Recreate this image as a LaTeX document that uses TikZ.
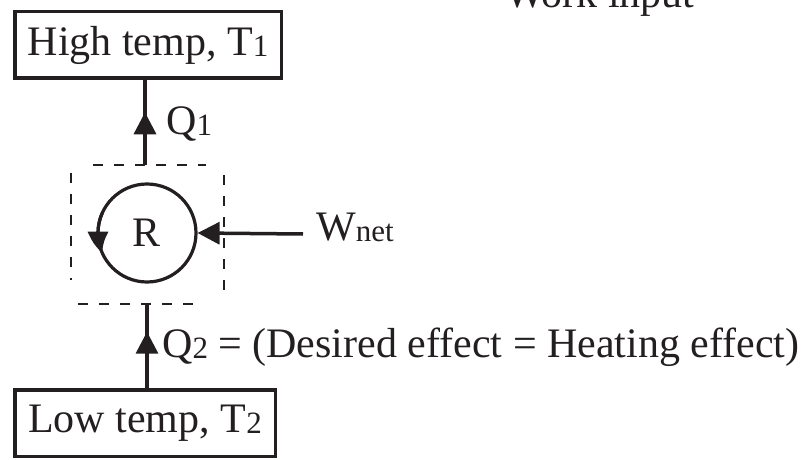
\documentclass[tikz,border=0pt]{standalone}
\usepackage{fontspec}
\setmainfont{Liberation Serif}
\usetikzlibrary{arrows.meta,bending,decorations.markings}
\definecolor{ink}{RGB}{35,31,32}
\newcommand\sbs[1]{\raisebox{-1.5pt}{\fontsize{31}{31}\selectfont #1}}
\tikzset{
  txt/.style={inner sep=0pt, font=\fontsize{42}{42}\selectfont, text=ink},
  tempbox/.style={draw=ink, line width=3.5pt, rectangle, inner sep=0pt, minimum height=66.5pt, font=\fontsize{42}{42}\selectfont, text=ink},
  conn/.style={draw=ink, line width=3.5pt},
  dashline/.style={draw=ink, line width=2.8pt, dash pattern=on 10pt off 11pt},
  bigtip/.style={-{Triangle[length=22pt,width=22pt]}},
  midarrow/.style={postaction={decorate}, decoration={markings, mark=at position #1 with {\arrow{Triangle[length=22pt,width=22pt]}}}}
}
\begin{document}
\begin{tikzpicture}[x=1pt,y=-1pt]
\useasboundingbox (0,0) rectangle (809,460);
\clip (0,0) rectangle (809,460);
% reservoirs
\node[tempbox, minimum width=266.5pt] (hi) at (148,45) {High temp, T\sbs{1}};
\node[tempbox, minimum width=260.5pt] (lo) at (145,423) {Low temp, T\sbs{2}};
% device
\node[circle, draw=ink, line width=3.2pt, minimum size=98pt, inner sep=0pt, font=\fontsize{42}{42}\selectfont, text=ink] (R) at (147,233) {R};
% dashed boundary
\draw[dashline] (93,165) -- (206,165);
\draw[dashline] (71,173) -- (71,280);
\draw[dashline] (224,175) -- (224,297);
\draw[dashline] (78,304) -- (202,304);
\coordinate (dtop) at (145,165);
\coordinate (dbot) at (147,304);
\coordinate (wstart) at (303,234);
% connectors
\draw[conn, midarrow=0.62] (dtop) -- (dtop |- hi.south);
\draw[conn, midarrow=0.67] (dbot |- lo.north) -- (dbot);
\draw[conn, bigtip] (wstart) -- (R.east);
\draw[conn, line width=3.2pt, -{Triangle[length=22pt,width=20pt,bend]}] ([shift={(205:49)}]R.center) arc[start angle=205, end angle=156, radius=49];
% labels
\node[txt, anchor=base west] (q1) at (166,134) {Q\sbs{1}};
\node[txt, anchor=base west] (wnet) at (316,240) {W\sbs{net}};
\node[txt, anchor=base west] (q2) at (162,357) {Q\sbs{2} = (Desired effect = Heating effect)};
\node[txt, anchor=base] (work) at (600,8) {Work input};
\end{tikzpicture}
\end{document}
